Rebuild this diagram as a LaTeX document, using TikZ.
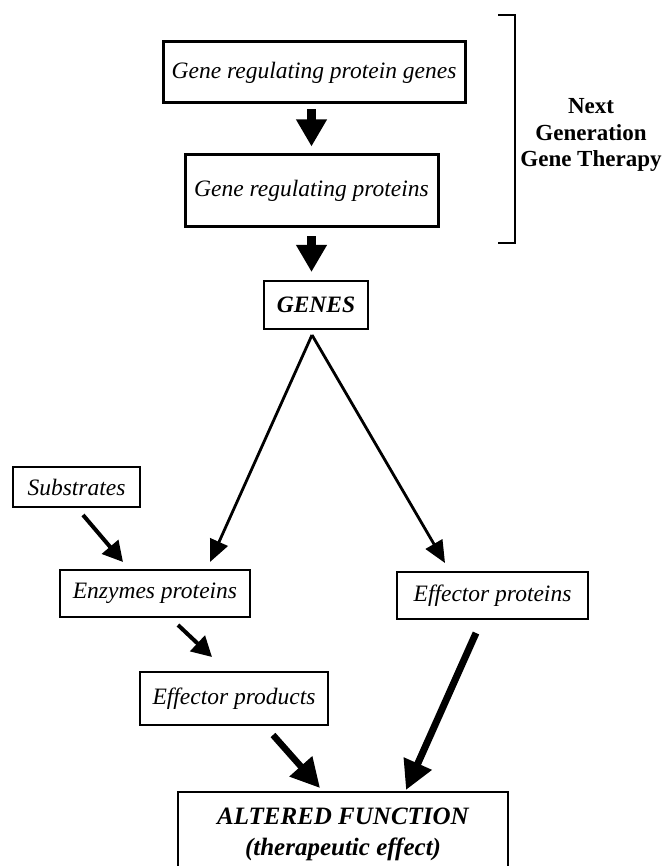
\documentclass[tikz,border=0pt]{standalone}
\usepackage{fontspec}
\setmainfont{Liberation Serif}
\usetikzlibrary{arrows.meta,calc}
\begin{document}
\begin{tikzpicture}[x=1pt,y=-1pt,
  box/.style={draw, inner sep=0pt, align=center, font=\fontsize{23.5}{26}\selectfont\itshape},
  thickbox/.style={box, line width=3pt},
  thinbox/.style={box, line width=1.2pt},
  blockarrow/.style={line width=9pt, -{Triangle[length=27pt,width=29pt]}},
  slimarrow/.style={line width=2.8pt, -{Triangle[length=22pt,width=19pt]}},
  midarrow/.style={line width=4pt, -{Triangle[length=20pt,width=21pt]}},
  fatarrow/.style={line width=6.5pt, -{Triangle[length=29pt,width=29pt]}}]
\useasboundingbox (0,0) rectangle (666,866);

% boxes
\node[thickbox, minimum width=302pt, minimum height=61pt] (b1) at (314,72.5) {Gene regulating protein genes};
\node[thickbox, minimum width=253pt, minimum height=72pt] (b2) at (311.5,191) {Gene regulating proteins};
\node[box, line width=2pt, minimum width=104pt, minimum height=48pt, font=\fontsize{23.5}{26}\selectfont\bfseries\itshape] (genes) at (316,305) {GENES};
\node[thinbox, minimum width=127pt, minimum height=40pt] (subs) at (76.5,487) {Substrates};
\node[thinbox, minimum width=190pt, minimum height=47pt] (enz) at (155,593.5) {Enzymes proteins};
\node[thinbox, minimum width=188pt, minimum height=53pt] (effprod) at (234,698.5) {Effector products};
\node[thinbox, minimum width=191pt, minimum height=47pt] (effprot) at (492.5,595.5) {Effector proteins};
\node[box, line width=1.5pt, minimum width=330pt, minimum height=84pt, font=\fontsize{25}{31}\selectfont\bfseries\itshape] (final) at (343,834) {ALTERED FUNCTION\\(therapeutic effect)};

% side label and bracket
\node[align=center, inner sep=0pt, font=\fontsize{23}{26.5}\selectfont\bfseries] (ngt) at (591,135) {Next\\Generation\\Gene Therapy};
\draw[line width=1.2pt] (498,15) -- (515,15) -- (515,243) -- (498,243);

% arrow end points
\coordinate (gl) at (210,562);
\coordinate (gr) at (445,563);
\coordinate (ss) at (83,515);
\coordinate (st) at (123,562);
\coordinate (es) at (178,625);
\coordinate (et) at (212,657);
\coordinate (ps) at (273,735);
\coordinate (pt) at (320,788);
\coordinate (qs) at (476,633);
\coordinate (qt) at (406,790);
\coordinate (apex) at (312,335);

% connectors
\draw[blockarrow, shorten <=5pt, shorten >=7pt] (b2.north |- b1.south) -- (b2.north);
\draw[blockarrow, shorten <=8pt, shorten >=8pt] (b2.south) -- (b2.south |- genes.north);
\draw[slimarrow] (apex) -- (gl);
\draw[slimarrow] (apex) -- (gr);
\draw[midarrow] (ss) -- (st);
\draw[midarrow] (es) -- (et);
\draw[fatarrow] (ps) -- (pt);
\draw[fatarrow, line width=7pt] (qs) -- (qt);
\end{tikzpicture}
\end{document}
